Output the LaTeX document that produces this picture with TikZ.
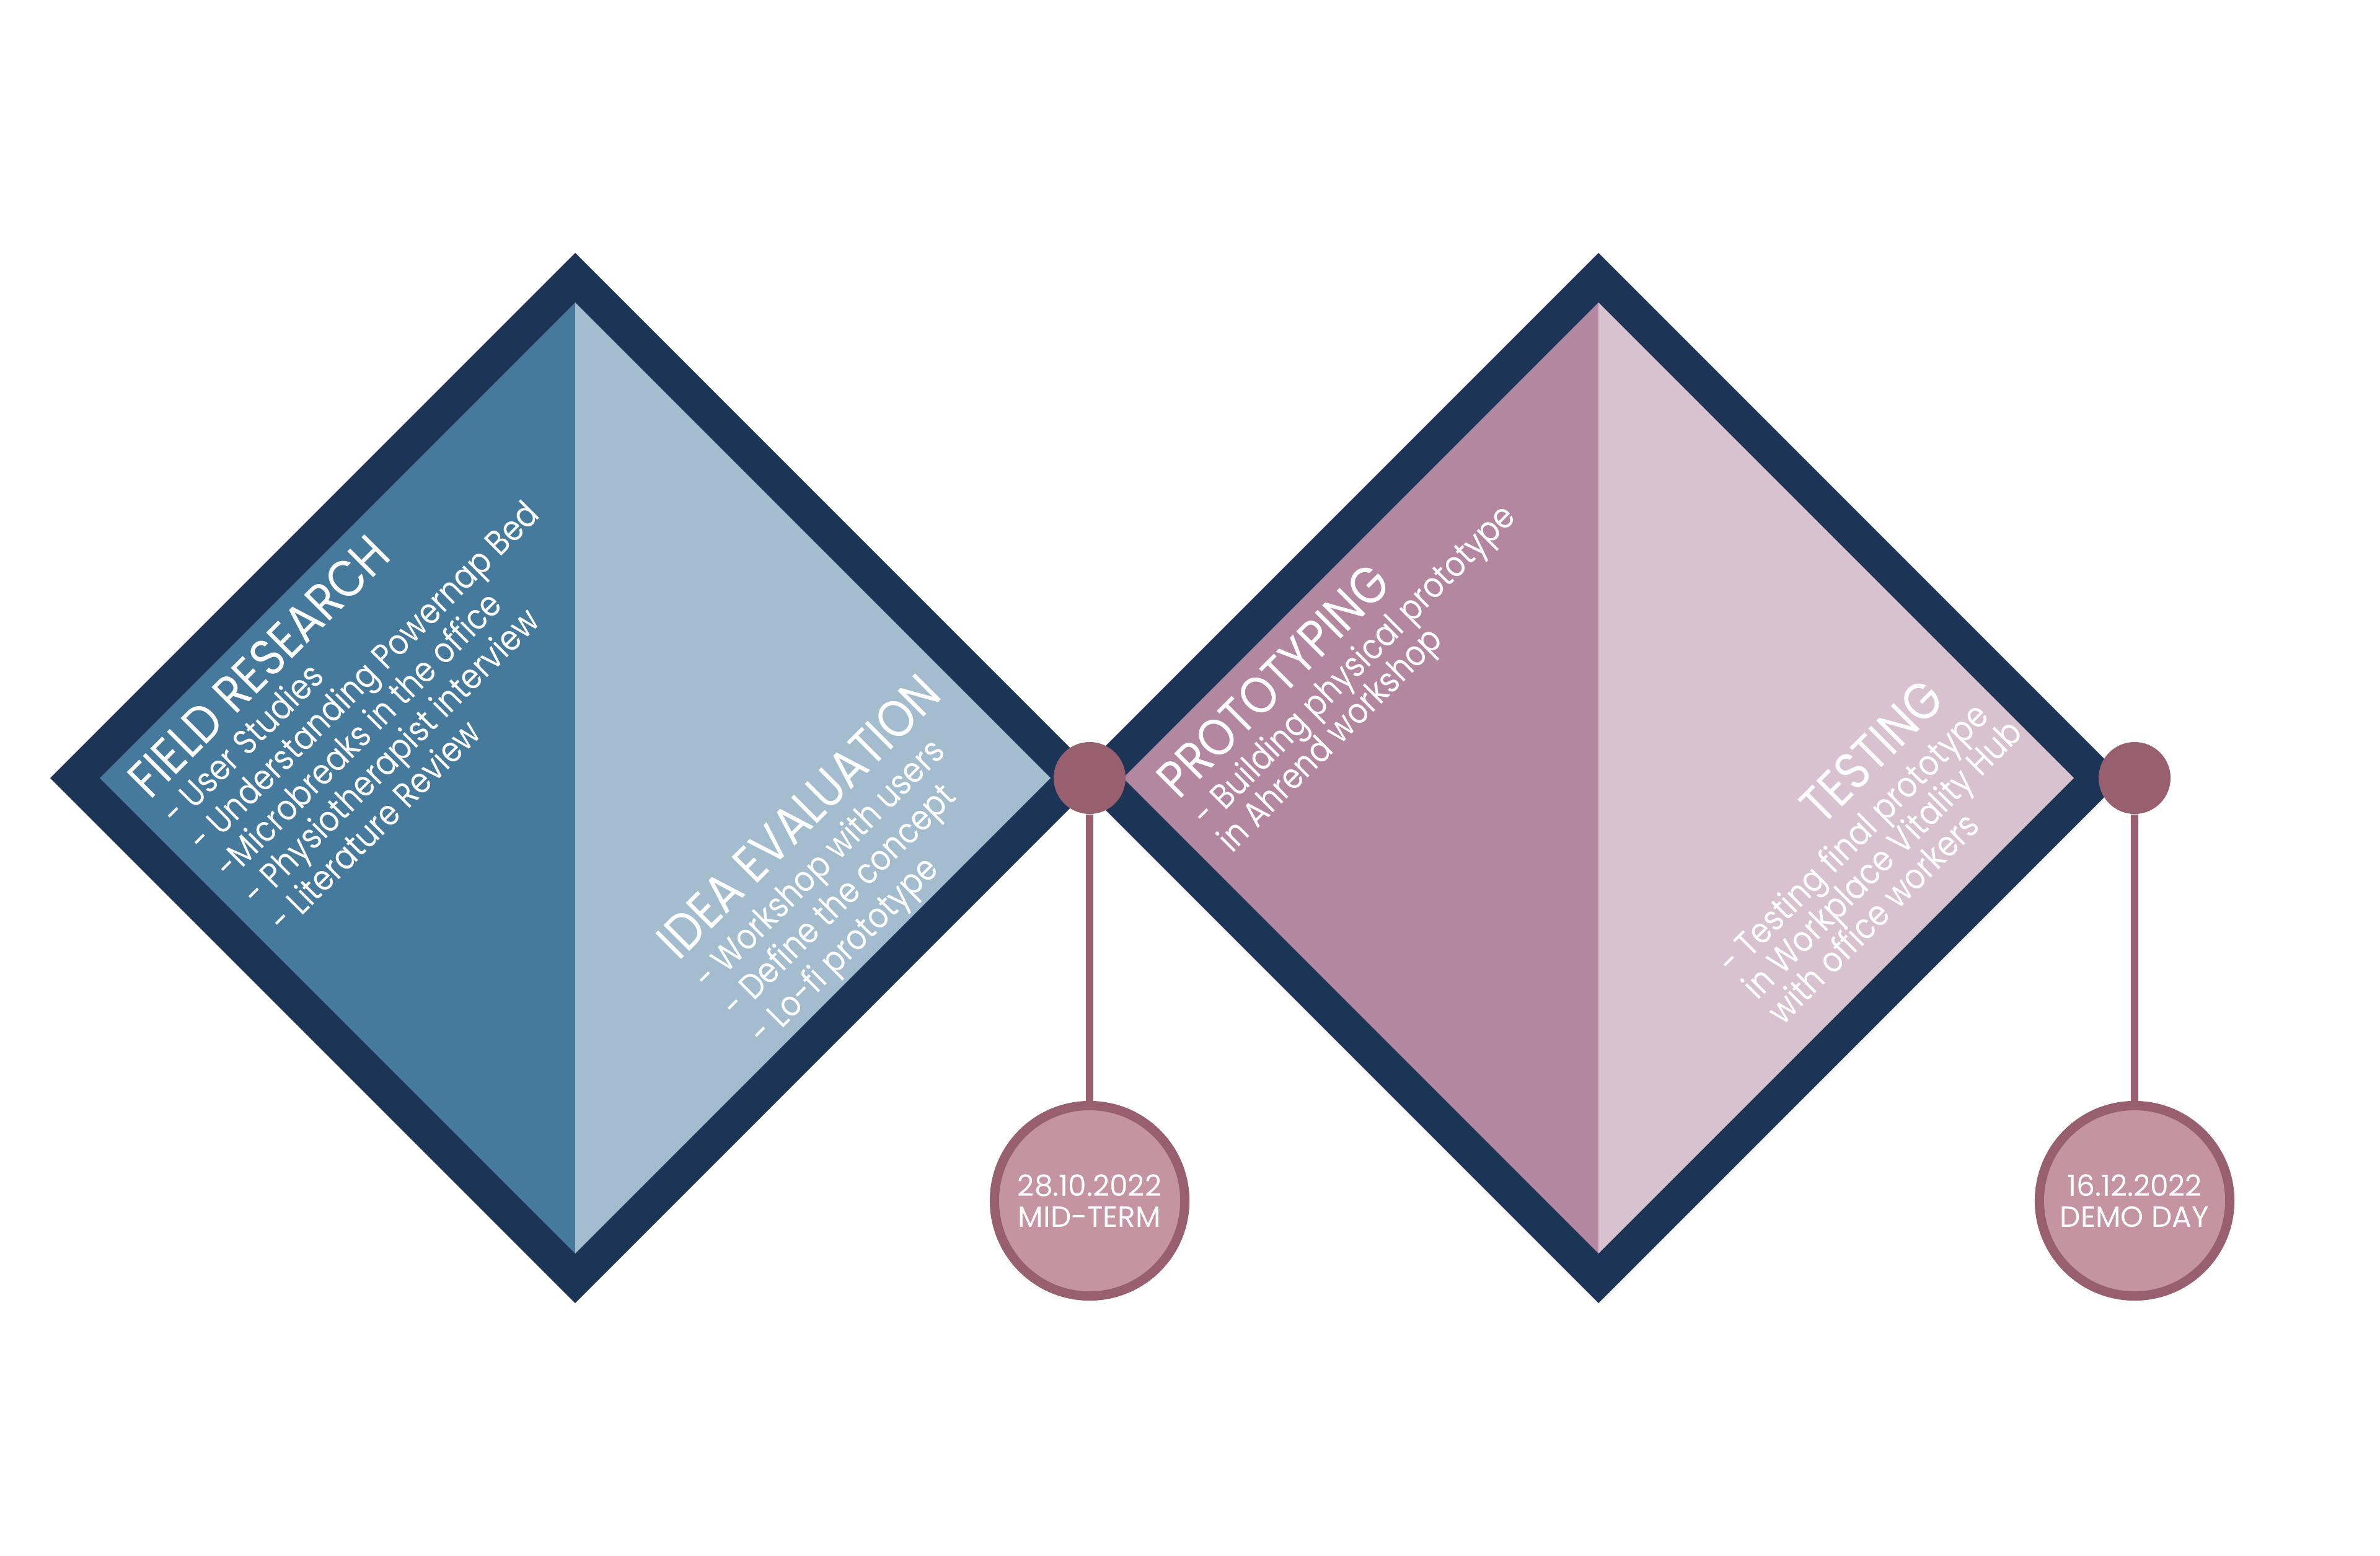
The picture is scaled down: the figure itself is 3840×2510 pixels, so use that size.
\documentclass[tikz,border=0pt]{standalone}
\usepackage{fontspec}
\setmainfont{Poppins}[FakeStretch=0.86]
\newfontfamily\datefont{Poppins}
\usepackage{tikz}

\definecolor{navy}{HTML}{1C3557}
\definecolor{steel}{HTML}{467A9C}
\definecolor{sky}{HTML}{A3BDCF}
\definecolor{mauve}{HTML}{B3879F}
\definecolor{blush}{HTML}{D8C2D0}
\definecolor{plum}{HTML}{985F6E}
\definecolor{rose}{HTML}{C594A3}

\tikzset{
  head/.style = {anchor = base west, rotate = 45, inner sep = 0, text = white, font = \fontsize{24}{26}\selectfont},
  point/.style = {anchor = base west, rotate = 45, inner sep = 0, text = white, font = \fontsize{16.2}{18}\selectfont},
  dot/.style = {circle, fill = plum, minimum size = 1.16cm, inner sep = 0},
  milestone/.style = {circle, draw = plum, line width = 0.15cm, fill = rose, minimum size = 3.07cm, inner sep = 0,
    text = white, align = center, font = \datefont\fontsize{13.4}{14.2}\selectfont},
  stem/.style = {plum, line width = 0.12cm}
}

\begin{document}
\begin{tikzpicture}[x = 0.01cm, y = -0.01cm]
\useasboundingbox (0,0) rectangle (3840,2510);

%phases
\foreach \cx/\cl/\cr in {928/steel/sky, 2579/mauve/blush} {
  \fill[navy] (\cx-847,1255) -- (\cx,408) -- (\cx+847,1255) -- (\cx,2102) -- cycle;
  \fill[\cl] (\cx-767,1255) -- (\cx,488) -- (\cx,2022) -- cycle;
  \fill[\cr] (\cx+767,1255) -- (\cx,488) -- (\cx,2022) -- cycle;
}

%milestones
\foreach \n/\mx/\date/\what in {mid/1758/28.10.2022/MID-TERM, demo/3444/16.12.2022/DEMO DAY} {
  \node[dot] (\n dot) at (\mx,1255) {};
  \node[milestone] (\n) at (\mx,1937) {\date\\\what};
  \draw[stem] (\n dot) -- (\n);
}

%field research
\begin{scope}[shift = {(242,1292)}, rotate = 45]
\node[head] (field) at (0,0) {FIELD RESEARCH};
\foreach \t [count = \i] in {{- User Studies}, {- Understanding Powernap Bed}, {-Microbreaks in the office}, {- Physiotherapist interview}, {- Literature Review}}
	\node[point] (field\i) at (0,{\i*61}) {\t};
\end{scope}

%idea evaluation
\begin{scope}[shift = {(1095,1552)}, rotate = 45]
\node[head] (idea) at (0,0) {IDEA EVALUATION};
\foreach \t [count = \i] in {{- Workshop with users}, {- Define the concept}, {- Lo-fi prototype}}
	\node[point] (idea\i) at (0,{5+\i*63}) {\t};
\end{scope}

%prototyping
\begin{scope}[shift = {(1902,1292)}, rotate = 45]
\node[head] (proto) at (0,0) {PROTOTYPING};
\foreach \t [count = \i] in {{- Building physical prototype}, {in Ahrend workshop}}
	\node[point] (proto\i) at (0,{7+\i*57}) {\t};
\end{scope}

%testing
\begin{scope}[shift = {(2795,1575)}, rotate = 45]
\node[head, anchor = base east] (test) at (558,-68) {TESTING};
\foreach \t [count = \i] in {{- Testing final prototype}, {in Workplace Vitality Hub}, {with office workers}}
	\node[point] (test\i) at (0,{(\i-1)*57}) {\t};
\end{scope}
\end{tikzpicture}
\end{document}
